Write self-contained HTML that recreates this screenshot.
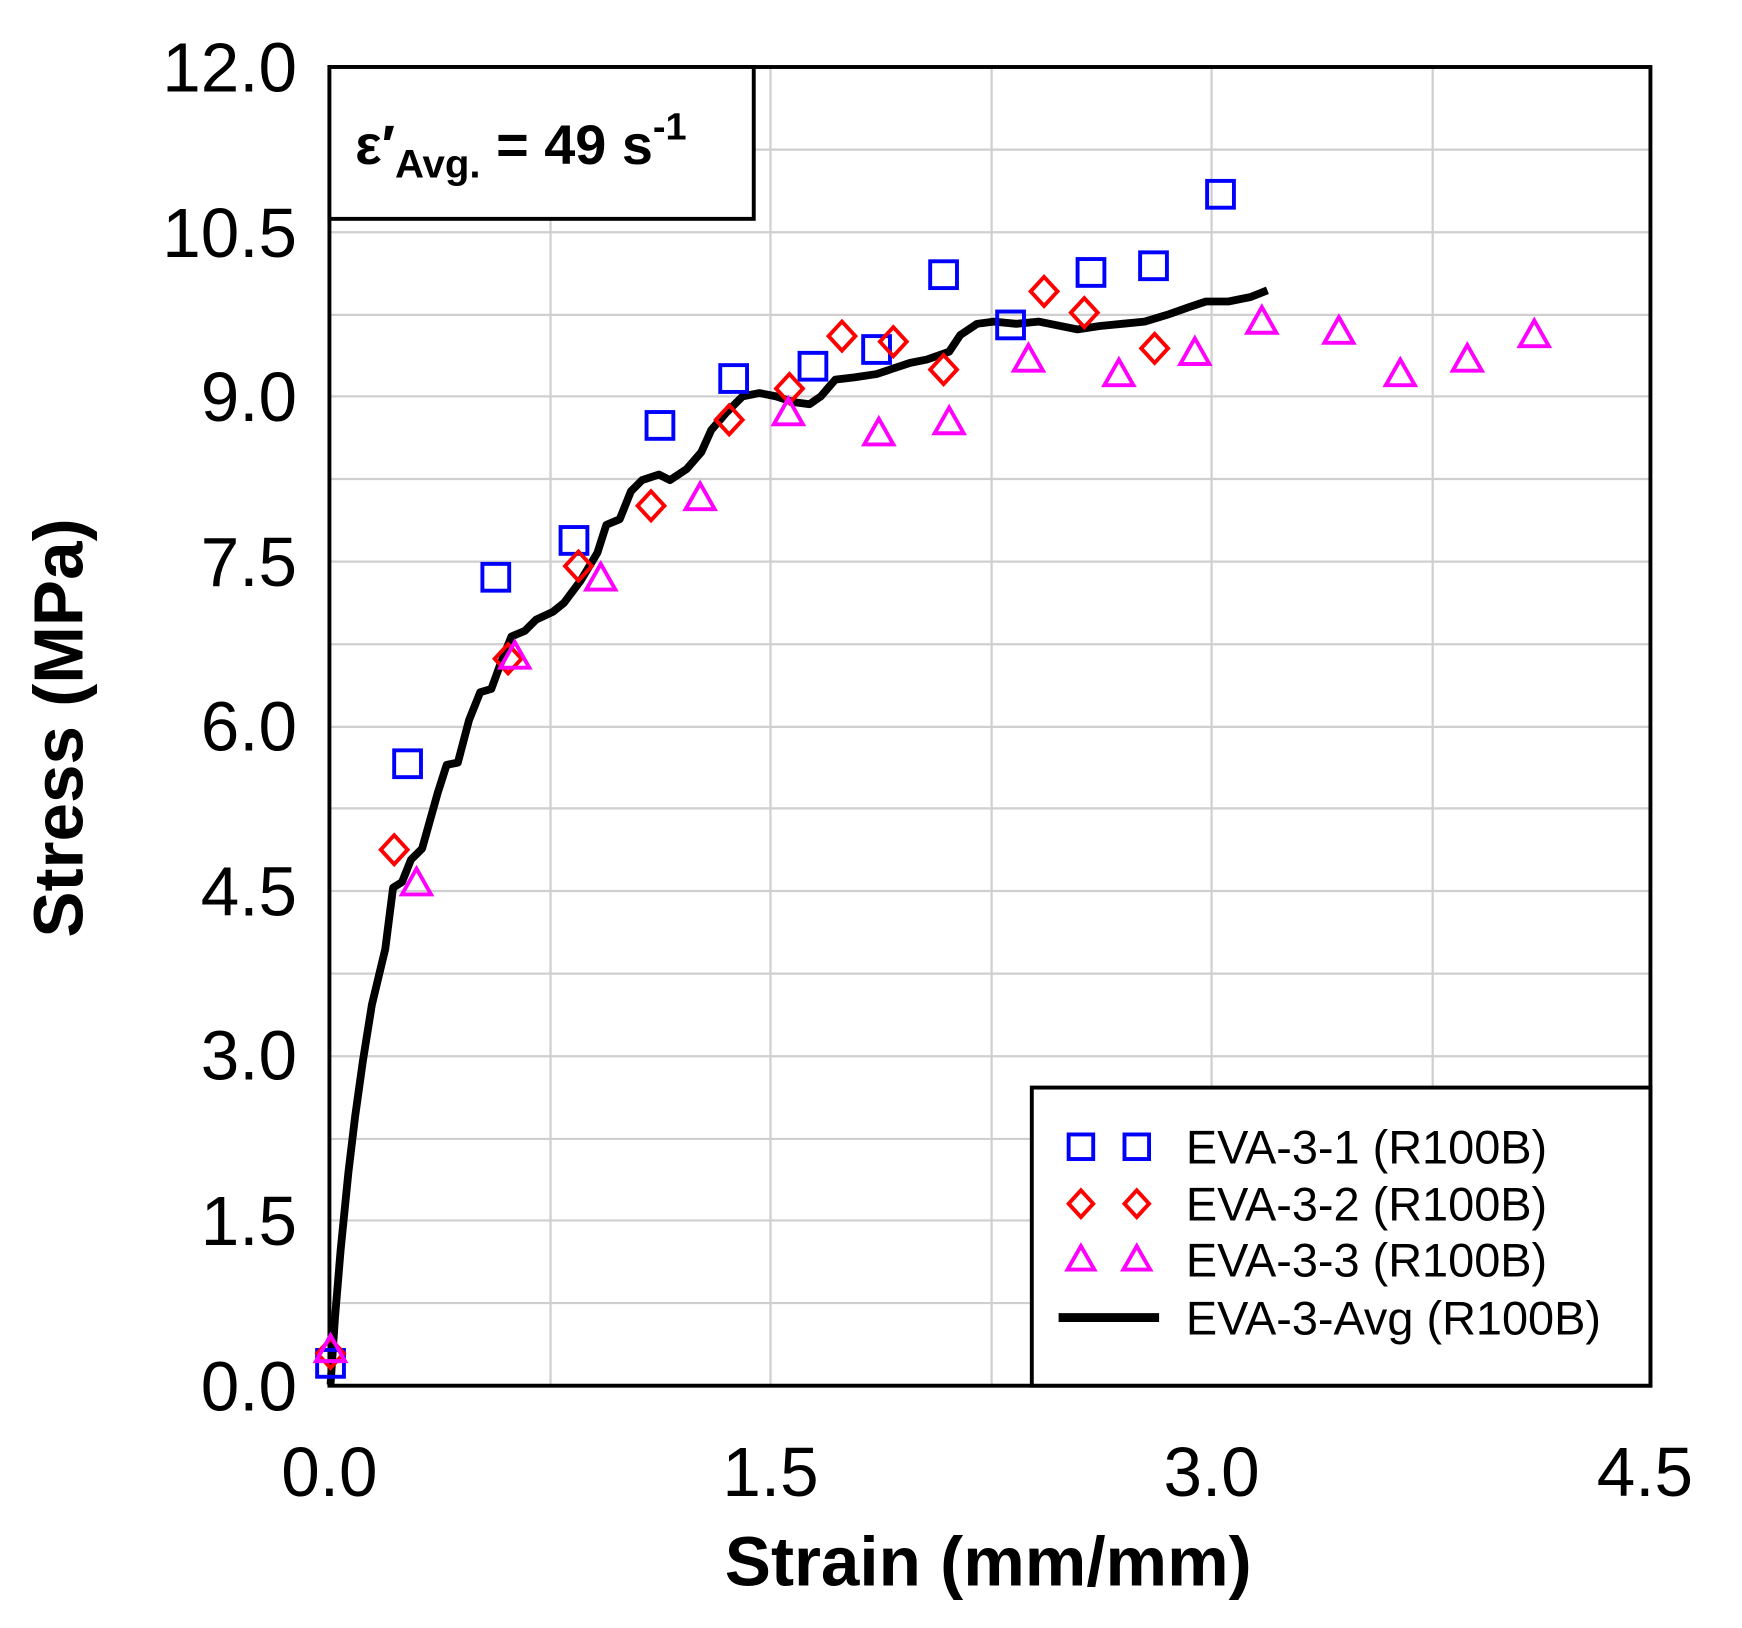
<!DOCTYPE html>
<html><head><meta charset="utf-8"><style>
html,body{margin:0;padding:0;background:#fff;}
svg{display:block;}
text{font-family:"Liberation Sans",Arial,sans-serif;}
</style></head><body>
<svg width="1742" height="1628" viewBox="0 0 1560 1458" preserveAspectRatio="none" xmlns="http://www.w3.org/2000/svg">
<rect width="1560" height="1458" fill="#fff"/>
<g stroke="#cfcfcf" stroke-width="2">
<line x1="493" y1="60" x2="493" y2="1241"/><line x1="690" y1="60" x2="690" y2="1241"/>
<line x1="888" y1="60" x2="888" y2="1241"/><line x1="1085" y1="60" x2="1085" y2="1241"/>
<line x1="1283" y1="60" x2="1283" y2="1241"/>
<line x1="295" y1="1167" x2="1478" y2="1167"/><line x1="295" y1="1093" x2="1478" y2="1093"/>
<line x1="295" y1="1020" x2="1478" y2="1020"/><line x1="295" y1="946" x2="1478" y2="946"/>
<line x1="295" y1="872" x2="1478" y2="872"/><line x1="295" y1="798" x2="1478" y2="798"/>
<line x1="295" y1="724" x2="1478" y2="724"/><line x1="295" y1="651" x2="1478" y2="651"/>
<line x1="295" y1="577" x2="1478" y2="577"/><line x1="295" y1="503" x2="1478" y2="503"/>
<line x1="295" y1="429" x2="1478" y2="429"/><line x1="295" y1="355" x2="1478" y2="355"/>
<line x1="295" y1="282" x2="1478" y2="282"/><line x1="295" y1="208" x2="1478" y2="208"/>
<line x1="295" y1="134" x2="1478" y2="134"/>
</g>
<rect x="295" y="60" width="1183" height="1181" fill="none" stroke="#000" stroke-width="3.5"/>
<g font-size="62" text-anchor="end" fill="#000">
<text x="266" y="82">12.0</text><text x="266" y="230">10.5</text><text x="266" y="377">9.0</text>
<text x="266" y="525">7.5</text><text x="266" y="672">6.0</text><text x="266" y="820">4.5</text>
<text x="266" y="967">3.0</text><text x="266" y="1115">1.5</text><text x="266" y="1263">0.0</text>
</g>
<g font-size="62" text-anchor="middle" fill="#000">
<text x="295" y="1340">0.0</text><text x="690" y="1340">1.5</text><text x="1085" y="1340">3.0</text><text x="1473" y="1340">4.5</text>
</g>
<text x="885" y="1420" font-size="62" font-weight="bold" text-anchor="middle">Strain (mm/mm)</text>
<text transform="translate(74,652) rotate(-90)" font-size="62" font-weight="bold" text-anchor="middle">Stress (MPa)</text>
<rect x="295" y="60" width="380" height="136" fill="#fff" stroke="#000" stroke-width="3.5"/>
<text x="318" y="147" font-size="50" font-weight="bold">ε′<tspan font-size="36" dy="12">Avg.</tspan><tspan dy="-12"> = 49 s</tspan><tspan font-size="34" dy="-22">-1</tspan></text>
<polyline fill="none" stroke="#000" stroke-width="7" stroke-linejoin="round" points="296,1240 300,1180 305,1120 312,1050 318,1000 325,950 333,900 345,850 352,795 360,790 368,770 378,760 385,735 392,710 400,685 410,683 420,645 430,620 440,617 448,595 458,570 470,565 480,555 495,548 505,540 520,520 535,495 543,470 555,465 565,440 575,430 590,425 600,430 615,420 628,405 637,385 650,370 665,355 680,352 695,355 710,360 725,362 735,355 748,340 765,338 785,335 800,330 815,325 830,322 850,315 860,300 875,290 890,288 910,290 930,288 950,292 965,295 985,292 1005,290 1025,288 1045,282 1065,275 1080,270 1100,270 1120,266 1135,260"/>
<g fill="none" stroke="#0000ff" stroke-width="3.5">
<rect x="284" y="1209" width="24" height="24"/><rect x="353" y="672" width="24" height="24"/><rect x="432" y="505" width="24" height="24"/>
<rect x="502" y="472" width="24" height="24"/><rect x="579" y="369" width="24" height="24"/><rect x="645" y="327" width="24" height="24"/>
<rect x="716" y="316" width="24" height="24"/><rect x="773" y="301" width="24" height="24"/><rect x="833" y="234" width="24" height="24"/>
<rect x="893" y="279" width="24" height="24"/><rect x="965" y="232" width="24" height="24"/><rect x="1021" y="226" width="24" height="24"/>
<rect x="1081" y="162" width="24" height="24"/>
</g>
<g fill="none" stroke="#ff0000" stroke-width="3.5">
<path d="M296 1199l12 13-12 13-12-13z"/><path d="M353 748l12 13-12 13-12-13z"/><path d="M455 577l12 13-12 13-12-13z"/>
<path d="M518 494l12 13-12 13-12-13z"/><path d="M583 440l12 13-12 13-12-13z"/><path d="M653 363l12 13-12 13-12-13z"/>
<path d="M707 335l12 13-12 13-12-13z"/><path d="M754 288l12 13-12 13-12-13z"/><path d="M800 293l12 13-12 13-12-13z"/>
<path d="M845 318l12 13-12 13-12-13z"/><path d="M935 248l12 13-12 13-12-13z"/><path d="M971 267l12 13-12 13-12-13z"/>
<path d="M1034 299l12 13-12 13-12-13z"/>
</g>
<g fill="none" stroke="#ff00ff" stroke-width="3.5">
<path d="M296 1196l13 23h-26z"/><path d="M373 778l13 23h-26z"/><path d="M461 575l13 23h-26z"/><path d="M538 505l13 23h-26z"/>
<path d="M627 433l13 23h-26z"/><path d="M706 357l13 23h-26z"/><path d="M787 375l13 23h-26z"/><path d="M850 365l13 23h-26z"/>
<path d="M921 309l13 23h-26z"/><path d="M1002 322l13 23h-26z"/><path d="M1070 303l13 23h-26z"/><path d="M1130 275l13 23h-26z"/>
<path d="M1199 284l13 23h-26z"/><path d="M1254 322l13 23h-26z"/><path d="M1314 309l13 23h-26z"/><path d="M1374 287l13 23h-26z"/>
</g>
<rect x="924" y="974" width="554" height="267" fill="#fff" stroke="#000" stroke-width="3.5"/>
<g fill="none" stroke-width="3.5">
<rect x="957" y="1016" width="22" height="22" stroke="#0000ff"/><rect x="1007" y="1016" width="22" height="22" stroke="#0000ff"/>
<path d="M968 1066l11 12-11 12-11-12z" stroke="#ff0000"/><path d="M1018 1066l11 12-11 12-11-12z" stroke="#ff0000"/>
<path d="M968 1116l12 21h-24z" stroke="#ff00ff"/><path d="M1018 1116l12 21h-24z" stroke="#ff00ff"/>
<line x1="948" y1="1180" x2="1038" y2="1180" stroke="#000" stroke-width="8"/>
</g>
<g font-size="42" fill="#000">
<text x="1062" y="1042">EVA-3-1 (R100B)</text><text x="1062" y="1093">EVA-3-2 (R100B)</text>
<text x="1062" y="1143">EVA-3-3 (R100B)</text><text x="1062" y="1195">EVA-3-Avg (R100B)</text>
</g>
</svg>
</body></html>
